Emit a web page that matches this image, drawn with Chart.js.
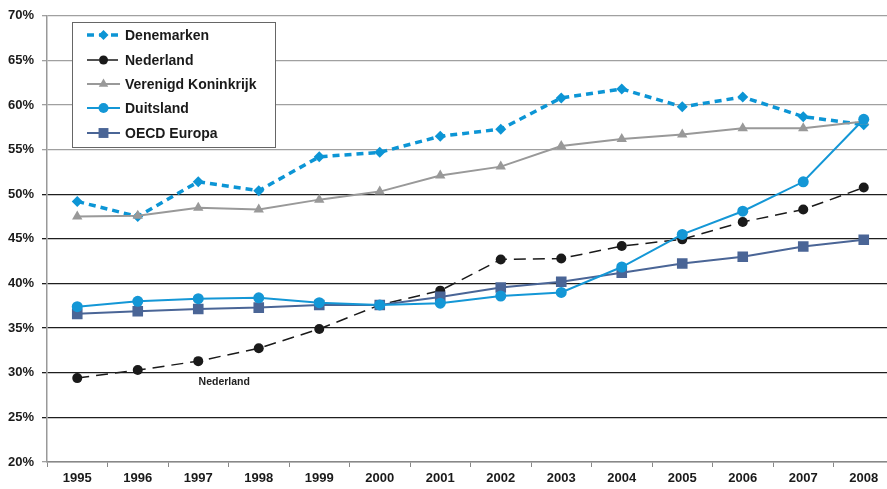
<!DOCTYPE html>
<html>
<head>
<meta charset="utf-8">
<script src="https://cdn.jsdelivr.net/npm/chart.js@4/dist/chart.umd.min.js"></script>
<style>
  html, body { margin: 0; padding: 0; background: #fff; overflow: hidden; }
  #chart { display: block; width: 887px; height: 489px; }
</style>
</head>
<body>
<canvas id="chart" width="887" height="489"></canvas>
<script>
const years = ['1995', '1996', '1997', '1998', '1999', '2000', '2001', '2002', '2003', '2004', '2005', '2006', '2007', '2008'];

const denemarken = [49.2, 47.5, 51.4, 50.4, 54.2, 54.7, 56.5, 57.3, 60.8, 61.8, 59.8, 60.9, 58.7, 57.8];
const nederland  = [29.4, 30.3, 31.3, 32.75, 34.9, 37.6, 39.2, 42.7, 42.8, 44.2, 44.95, 46.9, 48.3, 50.75];
const vk         = [47.5, 47.6, 48.5, 48.3, 49.4, 50.3, 52.1, 53.1, 55.4, 56.2, 56.7, 57.4, 57.4, 58.15];
const duitsland  = [37.4, 38.0, 38.3, 38.4, 37.85, 37.6, 37.8, 38.6, 39.0, 41.85, 45.5, 48.1, 51.4, 58.4];
const oecd       = [36.6, 36.9, 37.15, 37.3, 37.6, 37.6, 38.5, 39.55, 40.2, 41.2, 42.25, 43.0, 44.15, 44.9];

const seriesNames = ['Denemarken', 'Nederland', 'Verenigd Koninkrijk', 'Duitsland', 'OECD Europa'];
const yTicks = [20, 25, 30, 35, 40, 45, 50, 55, 60, 65, 70];

const FONT = '"Liberation Sans", Arial, sans-serif';
const OVERHANG = 7; // the last year column runs past the right edge

// stretch the x scale past the canvas edge once layout is done
function stretchX(chart) {
  const xs = chart.scales.x;
  const target = chart.width + OVERHANG;
  if (xs._endPixel === target) return;
  xs.right = target;
  xs.width = target - xs.left;
  chart.chartArea.right = target;
  chart.chartArea.width = target - chart.chartArea.left;
  xs.configure();
}
const overhang = {
  id: 'overhang',
  afterLayout: stretchX,
  beforeDatasetsUpdate: stretchX,
  beforeDraw: stretchX
};

// legend box drawn inside the plot, top left
const boxLegend = {
  id: 'boxLegend',
  afterDatasetsDraw(chart) {
    const ctx = chart.ctx;
    const x0 = 72, y0 = 22, w = 203, h = 125;
    ctx.save();
    ctx.fillStyle = '#fff';
    ctx.fillRect(x0, y0, w, h);
    ctx.strokeStyle = '#666';
    ctx.lineWidth = 1;
    ctx.strokeRect(x0 + 0.5, y0 + 0.5, w, h);
    const rows = [35, 60, 84, 108, 133];
    chart.data.datasets.forEach((ds, i) => {
      const y = rows[i];
      ctx.strokeStyle = ds.borderColor;
      ctx.lineWidth = ds.borderWidth;
      ctx.setLineDash(ds.borderDash || []);
      ctx.beginPath();
      ctx.moveTo(87, y);
      ctx.lineTo(120, y);
      ctx.stroke();
      ctx.setLineDash([]);
      ctx.fillStyle = ds.pointBackgroundColor;
      Chart.helpers.drawPoint(ctx, {
        pointStyle: ds.pointStyle, radius: ds.pointRadius - 0.5, rotation: 0, borderWidth: 0
      }, 103.5, y);
      ctx.fillStyle = '#1a1a1a';
      ctx.font = 'bold 14px ' + FONT;
      ctx.textBaseline = 'middle';
      ctx.textAlign = 'left';
      ctx.fillText(ds.label, 125, y + 1);
    });
    ctx.restore();
  }
};

// small label under the Nederland line
const lineLabel = {
  id: 'lineLabel',
  afterDatasetsDraw(chart) {
    const xs = chart.scales.x, ys = chart.scales.y;
    const ctx = chart.ctx;
    ctx.save();
    ctx.fillStyle = '#222';
    ctx.font = 'bold 10.5px ' + FONT;
    ctx.textAlign = 'center';
    ctx.textBaseline = 'middle';
    ctx.fillText('Nederland', xs.getPixelForValue(2.43), ys.getPixelForValue(29.0));
    ctx.restore();
  }
};

const datasets = [
  {
    label: seriesNames[0],
    data: denemarken,
    borderColor: '#0c95d5',
    pointBackgroundColor: '#0c95d5',
    borderWidth: 3.5,
    borderDash: [7, 5],
    pointStyle: 'rectRot',
    pointRadius: 5.5,
    order: 4
  },
  {
    label: seriesNames[1],
    data: nederland,
    borderColor: '#1a1a1a',
    pointBackgroundColor: '#1a1a1a',
    borderWidth: 1.5,
    borderDash: [12, 7],
    pointStyle: 'circle',
    pointRadius: 5,
    order: 2
  },
  {
    label: seriesNames[2],
    data: vk,
    borderColor: '#999999',
    pointBackgroundColor: '#999999',
    borderWidth: 2,
    pointStyle: 'triangle',
    pointRadius: 6,
    order: 3
  },
  {
    label: seriesNames[3],
    data: duitsland,
    borderColor: '#1497d6',
    pointBackgroundColor: '#1497d6',
    borderWidth: 2,
    pointStyle: 'circle',
    pointRadius: 5.5,
    order: 0
  },
  {
    label: seriesNames[4],
    data: oecd,
    borderColor: '#4a6596',
    pointBackgroundColor: '#4a6596',
    borderWidth: 2,
    pointStyle: 'rect',
    pointRadius: 7.5,
    order: 1
  }
];
datasets.forEach(ds => {
  ds.pointBorderWidth = 0;
  ds.pointBorderColor = ds.borderColor;
  ds.fill = false;
  ds.tension = 0;
});

new Chart(document.getElementById('chart'), {
  type: 'line',
  data: { labels: years, datasets: datasets },
  options: {
    responsive: false,
    animation: false,
    layout: { padding: { top: 12, left: 0, right: 0, bottom: 0 } },
    plugins: {
      legend: { display: false },
      tooltip: { enabled: false }
    },
    scales: {
      x: {
        offset: true,
        afterFit: s => { s.height = 27; },
        grid: {
          offset: true,
          drawOnChartArea: false,
          drawTicks: true,
          tickLength: 5,
          color: '#888'
        },
        border: { display: true, color: '#888', width: 1.5 },
        ticks: {
          color: '#1a1a1a',
          padding: 4,
          maxRotation: 0,
          autoSkip: false,
          font: { family: FONT, size: 13, weight: 'bold' }
        }
      },
      y: {
        min: 20,
        max: 70,
        afterFit: s => { s.width = 47; },
        afterBuildTicks: s => { s.ticks = yTicks.map(v => ({ value: v })); },
        grid: {
          tickLength: 5,
          lineWidth: 1.3,
          color: c => (c.tick && c.tick.value >= 55) || (c.tick && c.tick.value === 20) ? '#a0a0a0' : '#1e1e1e'
        },
        border: { display: true, color: '#999', width: 1.5 },
        ticks: {
          color: '#1a1a1a',
          padding: 8,
          callback: v => v + '%',
          font: { family: FONT, size: 13, weight: 'bold' }
        }
      }
    }
  },
  plugins: [overhang, boxLegend, lineLabel]
});
</script>
</body>
</html>
